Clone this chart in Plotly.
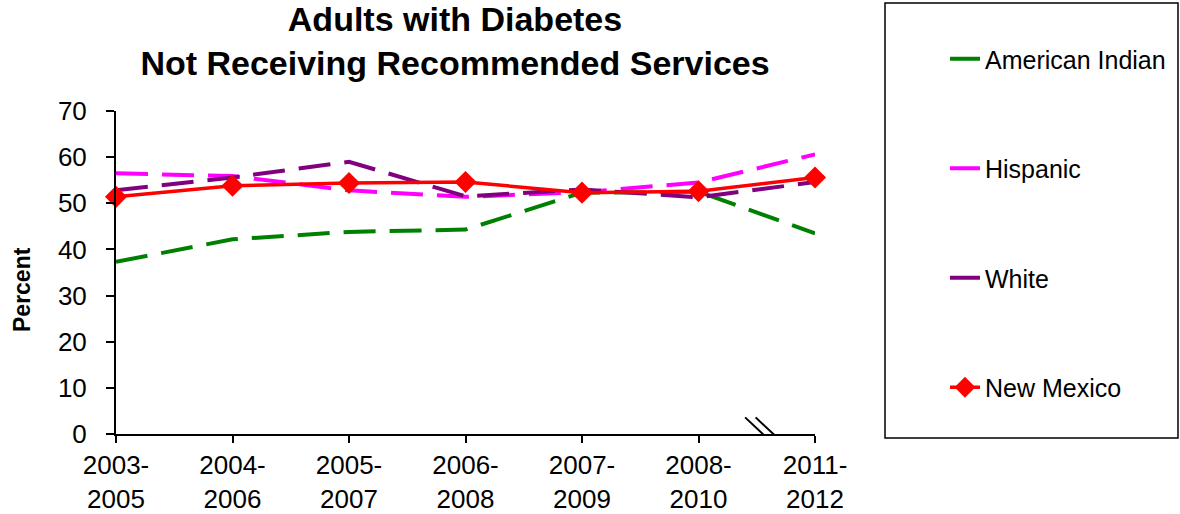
import plotly.graph_objects as go

# Reporting periods (x categories)
periods = ["2003-<br>2005", "2004-<br>2006", "2005-<br>2007", "2006-<br>2008",
           "2007-<br>2009", "2008-<br>2010", "2011-<br>2012"]

# Percent of adults with diabetes not receiving recommended services
american_indian = [37.3, 42.2, 43.8, 44.3, 52.3, 52.5, 43.5]
hispanic = [56.5, 55.9, 52.8, 51.4, 52.4, 54.5, 60.6]
white = [52.8, 55.6, 59.0, 51.5, 53.0, 51.3, 54.6]
new_mexico = [51.4, 53.8, 54.4, 54.6, 52.3, 52.6, 55.6]

FONT = "Liberation Sans, Arial, sans-serif"
dash = "32px,14px"

fig = go.Figure()
fig.add_trace(go.Scatter(x=periods, y=american_indian, name="American Indian",
                         mode="lines", legendgroup="a",
                         line=dict(color="#008000", width=4, dash=dash)))
fig.add_trace(go.Scatter(x=periods, y=hispanic, name="Hispanic",
                         mode="lines", legendgroup="b",
                         line=dict(color="#FF00FF", width=4, dash=dash)))
fig.add_trace(go.Scatter(x=periods, y=white, name="White",
                         mode="lines", legendgroup="c",
                         line=dict(color="#800080", width=4, dash=dash)))
fig.add_trace(go.Scatter(x=periods, y=new_mexico, name="New Mexico",
                         mode="lines+markers", legendgroup="d", cliponaxis=False,
                         line=dict(color="#FF0000", width=3.5),
                         marker=dict(symbol="diamond", size=17, color="#FF0000")))

# axis-break marks between the last two periods
for x0 in (5.40, 5.49):
    fig.add_shape(type="line", xref="x", yref="y", x0=x0, x1=x0 + 0.22,
                  y0=3.6, y1=-1.6, line=dict(color="black", width=2))

# legend frame
fig.add_shape(type="rect", xref="paper", yref="paper",
              x0=(885 - 116) / 699, x1=(1178 - 116) / 699,
              y0=(434 - 438) / 323, y1=(434 - 3) / 323,
              line=dict(color="black", width=1.5), fillcolor="rgba(0,0,0,0)")

# y-axis title
fig.add_annotation(text="<b>Percent</b>", xref="paper", yref="paper",
                   x=(22 - 116) / 699, y=(434 - 290) / 323, textangle=-90,
                   showarrow=False, xanchor="center", yanchor="middle",
                   font=dict(family=FONT, size=23, color="black"))

fig.update_layout(
    width=1180, height=514,
    margin=dict(l=116, r=365, t=111, b=80, autoexpand=False),
    paper_bgcolor="white", plot_bgcolor="white",
    font=dict(family=FONT, size=26, color="black"),
    title=dict(text="<b>Adults with Diabetes<br>Not Receiving Recommended Services</b>",
               x=455 / 1180, xanchor="center", y=0.94, yanchor="top",
               font=dict(family=FONT, size=34, color="black")),
    legend=dict(x=(945 - 116) / 699, xanchor="left", y=(434 - 36) / 323, yanchor="top",
                tracegroupgap=74, maxheight=500, font=dict(family=FONT, size=25),
                bgcolor="rgba(0,0,0,0)", borderwidth=0),
    showlegend=True,
)
fig.update_xaxes(type="category", range=[0, 6], showline=True, linecolor="black",
                 linewidth=2, ticks="outside", ticklen=7, tickwidth=2,
                 tickcolor="black", showgrid=False, zeroline=False, automargin=False,
                 tickfont=dict(family=FONT, size=26))
fig.update_yaxes(range=[0, 70], dtick=10, showline=True, linecolor="black",
                 linewidth=2, ticks="outside", ticklen=8, tickwidth=2,
                 tickcolor="black", showgrid=False, zeroline=False, automargin=False,
                 ticklabelstandoff=14,
                 tickfont=dict(family=FONT, size=26))

fig.write_html("out.html")
